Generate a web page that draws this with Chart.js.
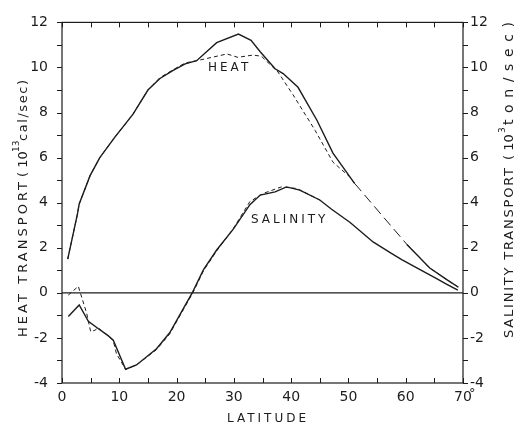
<!DOCTYPE html>
<html><head><meta charset="utf-8">
<script src="https://cdn.jsdelivr.net/npm/chart.js@4/dist/chart.umd.min.js"></script>
<style>html,body{margin:0;padding:0;background:#fff}</style>
</head><body>
<canvas id="c" width="514" height="428"></canvas>
<script>
// ---- data ----
const heatSolidLat = [1.0, 2.7, 3.0, 4.9, 6.6, 9.2, 12.4, 15.0, 17.1, 19.4, 21.5, 23.5, 27.0, 30.8, 33.0, 34.6, 37.2, 38.6, 41.2, 44.5, 47.3, 51.1, 55.0, 60.2, 64.2, 67.1, 69.2];
const heatSolidVal = [1.5, 3.5, 3.94, 5.2, 6.0, 6.9, 7.93, 9.0, 9.51, 9.87, 10.16, 10.3, 11.1, 11.48, 11.2, 10.7, 9.94, 9.73, 9.12, 7.66, 6.2, 4.85, null, 2.15, 1.1, 0.6, 0.25];

const heatDashLat = [1.0, 2.7, 3.0, 4.9, 6.6, 9.2, 12.4, 15.0, 17.1, 19.4, 21.5, 23.5, 25.3, 28.8, 30.7, 33.3, 34.8, 37.7, 40.3, 44.2, 47.3, 50.3, 51.1, 60.2, 64.2, 67.1, 69.2];
const heatDashVal = [1.5, 3.5, 3.94, 5.2, 6.0, 6.9, 7.93, 9.0, 9.55, 9.9, 10.2, 10.3, 10.4, 10.6, 10.45, 10.55, 10.5, 9.8, 8.8, 7.2, 5.8, 5.13, 4.85, 2.15, 1.1, 0.6, 0.25];

const saltSolidLat = [1.1, 3.0, 4.6, 6.3, 8.1, 8.95, 11.1, 13.0, 16.5, 18.8, 21.2, 22.8, 24.7, 27.0, 29.9, 32.8, 34.6, 37.2, 39.2, 41.5, 45.0, 47.0, 50.3, 54.3, 57.5, 59.3, 62.5, 65.4, 67.1, 69.1];
const saltSolidVal = [-1.05, -0.54, -1.26, -1.58, -1.91, -2.1, -3.39, -3.2, -2.48, -1.77, -0.69, 0.03, 1.03, 1.9, 2.83, 3.91, 4.34, 4.48, 4.7, 4.56, 4.12, 3.72, 3.12, 2.26, 1.75, 1.47, 1.03, 0.63, 0.39, 0.12];

const saltDashLat = [1.1, 2.85, 4.3, 5.0, 5.75, 6.3, 8.1, 8.95, 9.5, 11.1, 13.0, 16.5, 18.8, 21.2, 22.8, 24.7, 27.0, 29.9, 32.8, 35.1, 38.3, 41.0, 45.0];
const saltDashVal = [-0.1, 0.29, -0.9, -1.72, -1.66, -1.55, -1.91, -2.12, -2.7, -3.39, -3.2, -2.52, -1.82, -0.74, -0.02, 0.98, 1.86, 2.85, 4.05, 4.41, 4.7, 4.63, 4.12];

const latTicks = [0, 10, 20, 30, 40, 50, 60, 70];
const valTicks = [-4, -2, 0, 2, 4, 6, 8, 10, 12];

const pts = (xs, ys) => xs.map((x, i) => ({x: x, y: ys[i]}));
const INK = '#1c1c1c';
const FONT = '"DejaVu Sans", sans-serif';

// vertical title read bottom-to-top; each part spans screen y from..to
function drawVerticalTitle(ctx, baseX, bottomY, parts) {
  ctx.save();
  ctx.translate(baseX, bottomY);
  ctx.rotate(-Math.PI / 2);
  ctx.textBaseline = 'alphabetic';
  ctx.textAlign = 'left';
  ctx.fillStyle = INK;
  parts.forEach(p => {
    ctx.font = p.font;
    ctx.letterSpacing = '0px';
    const w0 = ctx.measureText(p.t).width;
    const len = p.from - p.to;
    const n = Math.max(1, p.t.length - 1);
    const sp = Math.max(0, (len - w0) / n);
    ctx.letterSpacing = sp + 'px';
    ctx.fillText(p.t, bottomY - p.from, p.dy || 0);
  });
  ctx.restore();
}

const deco = {
  id: 'deco',
  beforeDatasetsDraw(chart) {
    const {ctx, chartArea: a, scales: {x, y}} = chart;
    ctx.save();
    ctx.strokeStyle = INK;
    ctx.lineWidth = 1.2;
    ctx.strokeRect(a.left, a.top, a.right - a.left, a.bottom - a.top);
    const y0 = y.getPixelForValue(0);
    ctx.beginPath(); ctx.moveTo(a.left, y0); ctx.lineTo(a.right, y0); ctx.stroke();
    ctx.lineWidth = 1;
    ctx.beginPath();
    for (let v = -4; v <= 12; v++) {
      const py = Math.round(y.getPixelForValue(v)) + 0.5;
      ctx.moveTo(a.left - 5, py); ctx.lineTo(a.left, py);
      ctx.moveTo(a.right, py); ctx.lineTo(a.right + 5, py);
    }
    for (let v = 0; v <= 70; v += 5) {
      const px = Math.round(x.getPixelForValue(v)) + 0.5;
      ctx.moveTo(px, a.bottom); ctx.lineTo(px, a.bottom - 5);
      ctx.moveTo(px, a.top); ctx.lineTo(px, a.top + 5);
    }
    ctx.stroke();
    ctx.restore();
  },
  afterDraw(chart) {
    const {ctx, scales: {x}} = chart;
    ctx.save();
    ctx.fillStyle = INK;
    // degree sign after 70
    ctx.font = '13px ' + FONT;
    ctx.textAlign = 'left'; ctx.textBaseline = 'top';
    ctx.fillText('°', x.getPixelForValue(70) + 6, 387);
    // series labels
    ctx.font = '12px ' + FONT;
    ctx.textAlign = 'left';
    ctx.textBaseline = 'middle';
    ctx.letterSpacing = '3px';
    ctx.fillText('HEAT', 208, 68);
    ctx.fillText('SALINITY', 251, 220);
    // x title
    ctx.fillText('LATITUDE', 227, 419);
    ctx.restore();
    // y titles
    drawVerticalTitle(ctx, 27, 337, [
      {t: 'HEAT TRANSPORT', font: '13px ' + FONT, from: 337, to: 182},
      {t: '( 10', font: '13px ' + FONT, from: 177, to: 153},
      {t: '13', font: '9px ' + FONT, dy: -8, from: 152, to: 142},
      {t: 'cal/sec)', font: '13px ' + FONT, from: 141, to: 80}
    ]);
    drawVerticalTitle(ctx, 513, 338, [
      {t: 'SALINITY TRANSPORT', font: '13px ' + FONT, from: 338, to: 168},
      {t: '( 10', font: '13px ' + FONT, from: 160, to: 135},
      {t: '3', font: '9px ' + FONT, dy: -8, from: 133, to: 128},
      {t: 'ton/sec)', font: '14px ' + FONT, from: 125, to: 22}
    ]);
  }
};

const common = {pointRadius: 0, borderColor: INK, fill: false, tension: 0, spanGaps: false};

new Chart(document.getElementById('c'), {
  type: 'line',
  data: {
    datasets: [
      Object.assign({label: 'Heat (dashed)', data: pts(heatDashLat, heatDashVal), borderWidth: 1, borderDash: [4, 3],
        segment: {borderDash: c => (c.p0.parsed.x >= 51 && c.p1.parsed.x <= 61) ? [10, 5] : [4, 3]}}, common),
      Object.assign({label: 'Heat', data: pts(heatSolidLat, heatSolidVal), borderWidth: 1.4}, common),
      Object.assign({label: 'Salinity (dashed)', data: pts(saltDashLat, saltDashVal), borderWidth: 1, borderDash: [4, 3], yAxisID: 'y2'}, common),
      Object.assign({label: 'Salinity', data: pts(saltSolidLat, saltSolidVal), borderWidth: 1.4, yAxisID: 'y2'}, common)
    ]
  },
  options: {
    responsive: false,
    animation: false,
    devicePixelRatio: 1,
    layout: {padding: {top: 12, left: 0, right: 0, bottom: 0}},
    plugins: {legend: {display: false}, tooltip: {enabled: false}},
    scales: {
      x: {
        type: 'linear', min: 0, max: 70,
        afterBuildTicks: s => { s.ticks = latTicks.map(v => ({value: v})); },
        grid: {display: false, drawTicks: false}, border: {display: false},
        ticks: {color: INK, font: {family: FONT, size: 14}, padding: 6, maxRotation: 0, autoSkip: false},
        afterFit: s => { s.height = 45; }
      },
      y: {
        type: 'linear', position: 'left', min: -4, max: 12,
        afterBuildTicks: s => { s.ticks = valTicks.map(v => ({value: v})); },
        grid: {display: false, drawTicks: false}, border: {display: false},
        ticks: {color: INK, font: {family: FONT, size: 14}, padding: 14, autoSkip: false},
        afterFit: s => { s.width = 62; }
      },
      y2: {
        type: 'linear', position: 'right', min: -4, max: 12,
        afterBuildTicks: s => { s.ticks = valTicks.map(v => ({value: v})); },
        grid: {display: false, drawTicks: false}, border: {display: false},
        ticks: {color: INK, font: {family: FONT, size: 14}, padding: 7, autoSkip: false},
        afterFit: s => { s.width = 51; }
      }
    }
  },
  plugins: [deco]
});
</script>
</body></html>
